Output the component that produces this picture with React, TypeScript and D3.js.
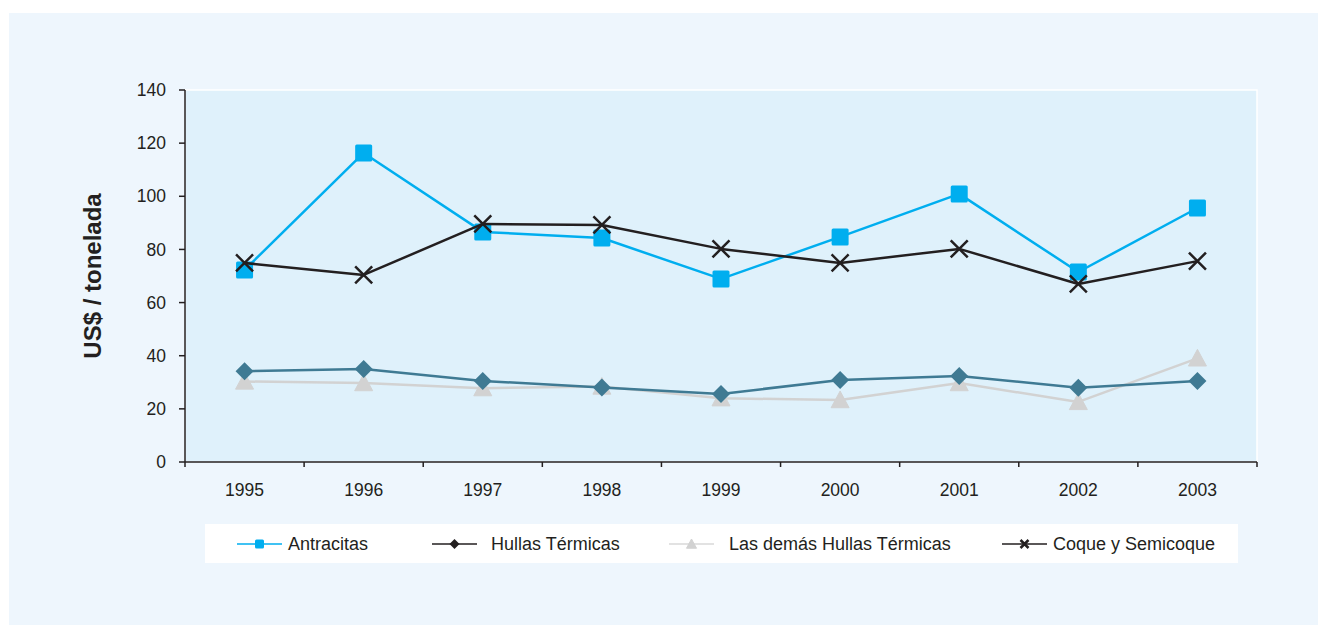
import React from "react";
import * as d3 from "d3";

const years = ["1995", "1996", "1997", "1998", "1999", "2000", "2001", "2002", "2003"];
const antracitas = [72.3, 116.3, 86.6, 84.3, 68.9, 84.7, 100.9, 71.5, 95.6];
const hullas = [34.2, 35.0, 30.5, 28.0, 25.6, 30.9, 32.4, 27.9, 30.5];
const lasDemas = [30.3, 29.7, 27.8, 28.4, 24.0, 23.3, 29.7, 22.6, 39.0];
const coque = [74.9, 70.4, 89.6, 89.2, 80.2, 74.9, 80.2, 67.0, 75.6];
const yTicks = [0, 20, 40, 60, 80, 100, 120, 140];

const seriesNames = ["Antracitas", "Hullas Térmicas", "Las demás Hullas Térmicas", "Coque y Semicoque"];

const FONT = "'Liberation Sans', Arial, sans-serif";
const TXT = "#231F20";

type Kind = "square" | "diamond" | "triangle" | "x";

function Marker({ kind, x, y, color, s }: { kind: Kind; x: number; y: number; color: string; s: number }) {
  const h = s / 2;
  if (kind === "square") return <rect x={x - h} y={y - h} width={s} height={s} rx={1.5} fill={color} />;
  if (kind === "diamond")
    return <path d={`M${x},${y - h}L${x + h},${y}L${x},${y + h}L${x - h},${y}Z`} fill={color} />;
  if (kind === "triangle")
    return <path d={`M${x},${y - h}L${x + h},${y + h * 0.85}L${x - h},${y + h * 0.85}Z`} fill={color} strokeLinejoin="round" stroke={color} strokeWidth={1} />;
  return (
    <path d={`M${x - h},${y - h}L${x + h},${y + h}M${x - h},${y + h}L${x + h},${y - h}`} stroke={color} strokeWidth={2.5} />
  );
}

export default function App() {
  const W = 1318, H = 625;
  const left = 185, right = 1257, top = 90, bottom = 462;
  const x = d3.scaleBand().domain(years).range([left, right]).padding(0);
  const y = d3.scaleLinear().domain([0, 140]).range([bottom, top]);
  const cx = (yr: string) => (x(yr) as number) + x.bandwidth() / 2;

  const series = [
    { name: seriesNames[0], values: antracitas, color: "#00AEEF", kind: "square" as Kind, size: 17, lw: 2.5 },
    { name: seriesNames[1], values: hullas, color: "#3F7A93", kind: "diamond" as Kind, size: 18, lw: 2.5 },
    { name: seriesNames[2], values: lasDemas, color: "#D2D2D2", kind: "triangle" as Kind, size: 18, lw: 2.5 },
    { name: seriesNames[3], values: coque, color: "#231F20", kind: "x" as Kind, size: 17, lw: 2.5 },
  ];
  const drawOrder = [2, 1, 0, 3];

  const line = d3
    .line<number>()
    .x((_, i) => cx(years[i]))
    .y((v) => y(v));

  const legendItems = [
    { idx: 0, lx: 237, tx: 288 },
    { idx: 1, lx: 432, tx: 491 },
    { idx: 2, lx: 669, tx: 729 },
    { idx: 3, lx: 1002, tx: 1053 },
  ];
  const legendY = 544;

  return (
    <svg width={W} height={H} style={{ position: "absolute", left: 0, top: 0 }} fontFamily={FONT}>
      <rect x={0} y={0} width={W} height={H} fill="#FFFFFF" />
      <rect x={9} y={13} width={W - 9} height={H - 13} fill="#EEF6FD" />
      <rect x={left} y={top} width={right - left} height={bottom - top} fill="#DFF1FB" stroke="#FFFFFF" strokeWidth={1.5} />

      {/* axes */}
      <line x1={left} y1={top} x2={left} y2={bottom} stroke={TXT} strokeWidth={1.5} />
      <line x1={left} y1={bottom} x2={right} y2={bottom} stroke={TXT} strokeWidth={1.5} />
      {yTicks.map((t) => (
        <g key={t}>
          <line x1={left - 6} x2={left} y1={y(t)} y2={y(t)} stroke={TXT} strokeWidth={1.5} />
          <text x={166} y={y(t)} dy="0.35em" textAnchor="end" fontSize={17.5} fill={TXT}>
            {t}
          </text>
        </g>
      ))}
      {years.map((yr) => (
        <line key={"t" + yr} x1={(x(yr) as number)} x2={(x(yr) as number)} y1={bottom} y2={bottom + 5} stroke={TXT} strokeWidth={1.5} />
      ))}
      <line x1={right} x2={right} y1={bottom} y2={bottom + 5} stroke={TXT} strokeWidth={1.5} />
      {years.map((yr) => (
        <text key={"l" + yr} x={cx(yr)} y={490} dy="0.35em" textAnchor="middle" fontSize={17.5} fill={TXT}>
          {yr}
        </text>
      ))}
      <text
        transform={`translate(93,276) rotate(-90)`}
        textAnchor="middle"
        dy="0.35em"
        fontSize={24}
        fontWeight="bold"
        fill={TXT}
      >
        US$ / tonelada
      </text>

      {/* series lines */}
      {drawOrder.map((si) => {
        const s = series[si];
        return (
          <g key={s.name}>
            <path d={line(s.values) || ""} fill="none" stroke={s.color} strokeWidth={s.lw} strokeLinejoin="round" />
            {s.values.map((v, i) => (
              <Marker key={i} kind={s.kind} x={cx(years[i])} y={y(v)} color={s.color} s={s.size} />
            ))}
          </g>
        );
      })}

      {/* legend */}
      <rect x={205} y={524} width={1033} height={39} fill="#FFFFFF" />
      {legendItems.map((it) => {
        const s = series[it.idx];
        const lineColor = it.idx === 0 ? "#00AEEF" : it.idx === 2 ? "#D9D9D9" : "#231F20";
        const mk = it.idx === 0 ? "#00AEEF" : it.idx === 2 ? "#D2D2D2" : "#231F20";
        return (
          <g key={s.name}>
            <line x1={it.lx} x2={it.lx + 45} y1={legendY} y2={legendY} stroke={lineColor} strokeWidth={1.5} />
            {s.kind === "x" ? (
              <Marker kind="x" x={it.lx + 22.5} y={legendY} color={mk} s={8} />
            ) : (
              <Marker kind={s.kind} x={it.lx + 22.5} y={legendY} color={mk} s={s.kind === "square" ? 9 : 10} />
            )}
            <text x={it.tx} y={legendY} dy="0.35em" fontSize={18} fill={TXT}>
              {s.name}
            </text>
          </g>
        );
      })}
    </svg>
  );
}
